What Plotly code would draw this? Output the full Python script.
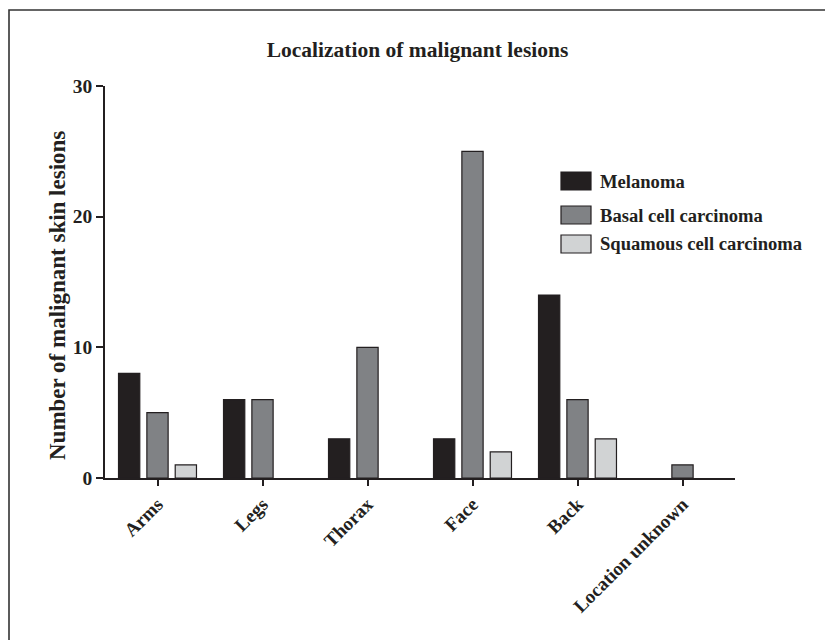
import plotly.graph_objects as go

# Lesion counts per body location
locations = ["Arms", "Legs", "Thorax", "Face", "Back", "Location unknown"]
melanoma = [8, 6, 3, 3, 14, 0]
basal_cell = [5, 6, 10, 25, 6, 1]
squamous_cell = [1, 0, 0, 2, 3, 0]

series_names = ["Melanoma", "Basal cell carcinoma", "Squamous cell carcinoma"]
series_colors = ["#231f20", "#808285", "#d1d3d4"]
y_ticks = [0, 10, 20, 30]

W, H = 825, 640
L, R, T, B = 105, 90, 86, 162
plot_w = W - L - R
plot_h = H - T - B

FONT = "Liberation Serif"
INK = "#231f20"

fig = go.Figure()
for name, vals, col in zip(series_names, [melanoma, basal_cell, squamous_cell], series_colors):
    # no outline on empty bars so nothing shows along the baseline
    widths = [1.2 if v > 0 else 0 for v in vals]
    fig.add_trace(go.Bar(
        x=locations, y=vals, name=name,
        marker=dict(color=col, line=dict(color=INK, width=widths)),
        showlegend=False,
    ))

def px_x(px):
    return (px - L) / plot_w

def px_y(py):
    return (H - B - py) / plot_h

shapes = []
annotations = []

# Legend: swatches and labels
legend_rows = [181, 215, 244]
for name, col, cy in zip(series_names, series_colors, legend_rows):
    shapes.append(dict(
        type="rect", xref="paper", yref="paper",
        x0=px_x(561), x1=px_x(591), y0=px_y(cy + 9), y1=px_y(cy - 9),
        fillcolor=col, line=dict(color=INK, width=1.2),
    ))
    annotations.append(dict(
        xref="paper", yref="paper", x=px_x(598), y=px_y(cy),
        xanchor="left", yanchor="middle", showarrow=False,
        text="<b>%s</b>" % name,
        font=dict(family=FONT, size=18.6, color=INK),
    ))

# Y axis title
annotations.append(dict(
    xref="paper", yref="paper", x=px_x(57), y=px_y(296),
    xanchor="center", yanchor="middle", showarrow=False, textangle=-90,
    text="<b>Number of malignant skin lesions</b>",
    font=dict(family=FONT, size=23, color=INK),
))

# Outer frame
shapes.append(dict(
    type="rect", xref="paper", yref="paper",
    x0=px_x(9), x1=px_x(840), y0=px_y(660), y1=px_y(10),
    line=dict(color="#333333", width=1.6), fillcolor="rgba(0,0,0,0)",
))

fig.update_layout(
    width=W, height=H,
    margin=dict(l=L, r=R, t=T, b=B),
    paper_bgcolor="white", plot_bgcolor="white",
    barmode="group", bargap=0.19, bargroupgap=0.25,
    title=dict(
        text="<b>Localization of malignant lesions</b>",
        x=417.5 / W, xanchor="center", y=1 - 49 / H, yanchor="middle",
        font=dict(family=FONT, size=21.5, color=INK),
    ),
    font=dict(family=FONT, color=INK),
    shapes=shapes,
    annotations=annotations,
)

fig.update_xaxes(
    type="category", range=[-0.5, 5.5],
    showline=True, linecolor=INK, linewidth=1.5,
    ticks="outside", ticklen=6, tickwidth=1.5, tickcolor=INK,
    tickangle=-45, showgrid=False, zeroline=False,
    tickfont=dict(family=FONT, size=19, color=INK),
    tickmode="array", tickvals=locations,
    ticktext=["<b>%s</b>" % s for s in locations],
)

fig.update_yaxes(
    range=[0, 30],
    showline=True, linecolor=INK, linewidth=1.5,
    ticks="outside", ticklen=7, tickwidth=1.5, tickcolor=INK,
    tickmode="array", tickvals=y_ticks,
    ticktext=["<b>%d</b>" % v for v in y_ticks],
    showgrid=False, zeroline=False,
    tickfont=dict(family=FONT, size=19.5, color=INK),
)

fig.write_html("out.html")
